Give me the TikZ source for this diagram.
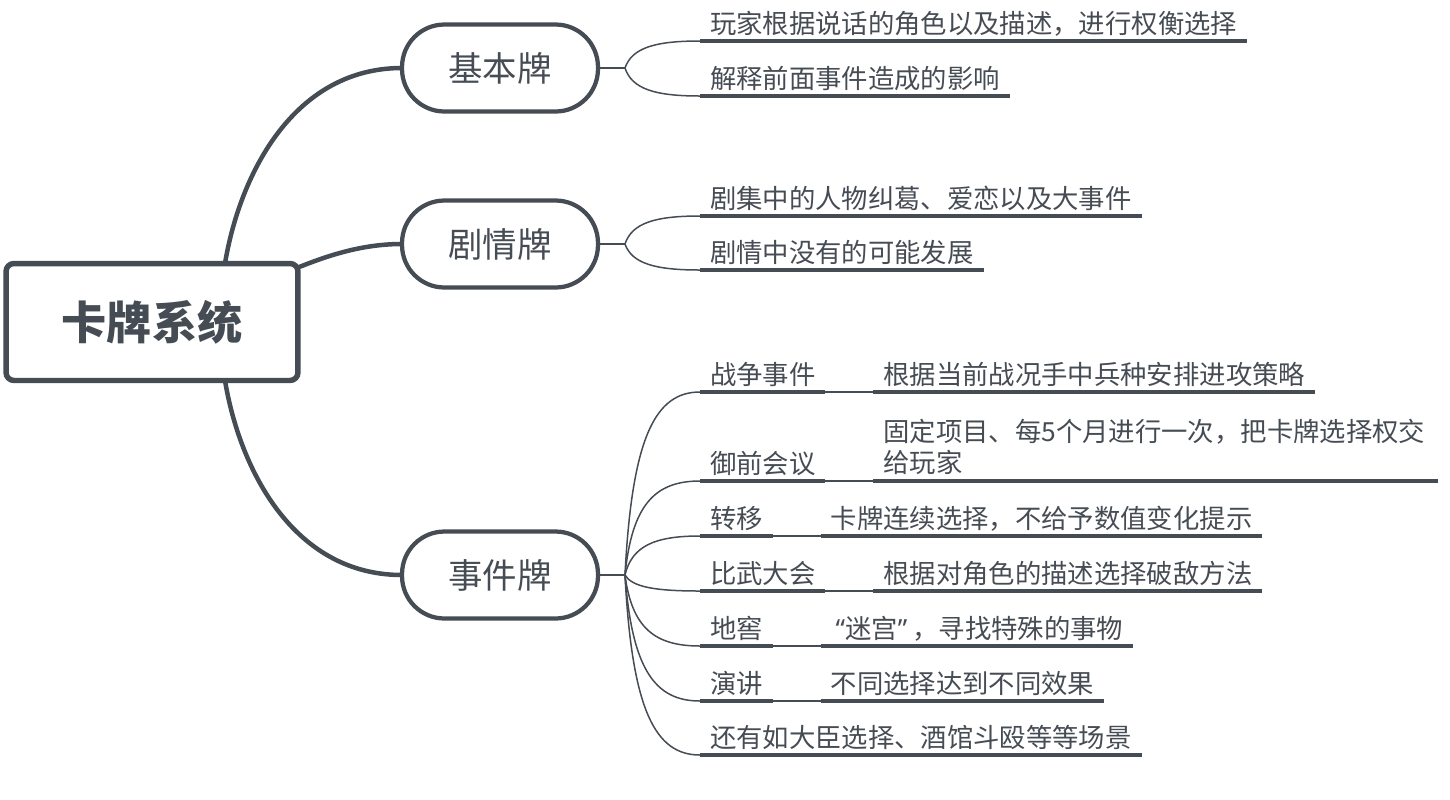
\documentclass[tikz,border=0pt]{standalone}
\usepackage{fontspec}
\setmainfont{Noto Sans CJK SC}
\newfontfamily\quotefont{Noto Sans}
\usepackage{tikz}
\usetikzlibrary{calc, positioning}
\definecolor{inkgray}{RGB}{70, 76, 84}

\begin{document}
\begin{tikzpicture}[
  x=0.02cm, y=-0.02cm,
  rootbox/.style={draw=inkgray, line width=0.11cm, rounded corners=0.16cm, outer sep=0pt,
              minimum width=5.84cm, minimum height=2.34cm, text=inkgray,
              font=\fontsize{25.7pt}{30pt}\selectfont\bfseries},
  topic/.style={draw=inkgray, line width=0.085cm, rounded corners=0.85cm, outer sep=0pt,
              minimum width=3.92cm, minimum height=1.74cm, text=inkgray,
              font=\fontsize{19.6pt}{24pt}\selectfont},
  leaf/.style={inner xsep=0.2cm, inner ysep=0pt, text depth=0.16cm, outer sep=0pt,
              text=inkgray, font=\fontsize{15pt}{18.1pt}\selectfont},
  limb/.style={draw=inkgray, line width=0.09cm},
  twig/.style={draw=inkgray, line width=0.03cm},
  bar/.style={draw=inkgray, line width=0.08cm}
]
  \useasboundingbox (0,0) rectangle (1450,799);

  \node[rootbox] (root) at (152,322) {卡牌系统};
  \node[topic] (bk) at (500,68) {基本牌};
  \node[topic] (jq) at (500,244) {剧情牌};
  \node[topic] (sj) at (500,575) {事件牌};

  % 主干
  \draw[limb] ([xshift=1.46cm]root.north) .. controls +(15,-90) and +(-108,0) .. (bk.west);
  \draw[limb] ([yshift=-0.08cm]root.north east) .. controls +(30,-12) and +(-40,0) .. (jq.west);
  \draw[limb] ([xshift=1.46cm]root.south) .. controls +(15,90) and +(-108,0) .. (sj.west);

  % 基本牌
  \node[leaf, anchor=south west] (a1) at (700,41) {玩家根据说话的角色以及描述，进行权衡选择};
  \node[leaf, anchor=south west] (a2) at (700,96) {解释前面事件造成的影响};

  % 剧情牌
  \node[leaf, anchor=south west] (b1) at (700,216) {剧集中的人物纠葛、爱恋以及大事件};
  \node[leaf, anchor=south west] (b2) at (700,270) {剧情中没有的可能发展};

  % 事件牌
  \node[leaf, anchor=south west] (e1) at (700,392) {战争事件};
  \node[leaf, anchor=south west] (e2) at (700,481) {御前会议};
  \node[leaf, anchor=south west] (e3) at (700,536) {转移};
  \node[leaf, anchor=south west] (e4) at (700,591) {比武大会};
  \node[leaf, anchor=south west] (e5) at (700,646) {地窖};
  \node[leaf, anchor=south west] (e6) at (700,701) {演讲};
  \node[leaf, anchor=south west] (e7) at (700,755) {还有如大臣选择、酒馆斗殴等等场景};

  \node[leaf, right=0.96cm of e1.south east, anchor=south west] (d1) {根据当前战况手中兵种安排进攻策略};
  \node[leaf, right=0.96cm of e2.south east, anchor=south west, text width=10.9cm,
        align=left, text depth=0.8cm] (d2)
    {固定项目、每5个月进行一次，把卡牌选择权交\\给玩家};
  \node[leaf, right=0.96cm of e3.south east, anchor=south west] (d3) {卡牌连续选择，不给予数值变化提示};
  \node[leaf, right=0.96cm of e4.south east, anchor=south west] (d4) {根据对角色的描述选择破敌方法};
  \node[leaf, right=0.96cm of e5.south east, anchor=south west] (d5)
    {{\quotefont\hspace{0.1cm}“}迷宫{\quotefont ”\hspace{0.1cm}}，寻找特殊的事物};
  \node[leaf, right=0.96cm of e6.south east, anchor=south west] (d6) {不同选择达到不同效果};

  % 分叉
  \foreach \src/\fk in {bk/f1, jq/f2, sj/f3} {
    \coordinate (\fk) at ($(\src.east)+(27,0)$);
    \draw[twig] (\src.east) -- (\fk);
  }
  \foreach \fk/\tgt in {f1/a1, f1/a2, f2/b1, f2/b2, f3/e1, f3/e2, f3/e3, f3/e4, f3/e5, f3/e6, f3/e7}
    \draw[twig] (\fk) .. controls ($(\fk)!0.75!(\fk|-\tgt.south west)+(7,0)$)
      and ($(\tgt.south west)+(-45,0)$) .. (\tgt.south west);
  \foreach \i in {1,...,6}
    \draw[twig] (e\i.south east) -- (d\i.south west);

  % 下划线
  \foreach \n in {a1,a2,b1,b2,e1,e2,e3,e4,e5,e6,e7,d1,d2,d3,d4,d5,d6}
    \draw[bar] (\n.south west) -- (\n.south east);
\end{tikzpicture}
\end{document}
